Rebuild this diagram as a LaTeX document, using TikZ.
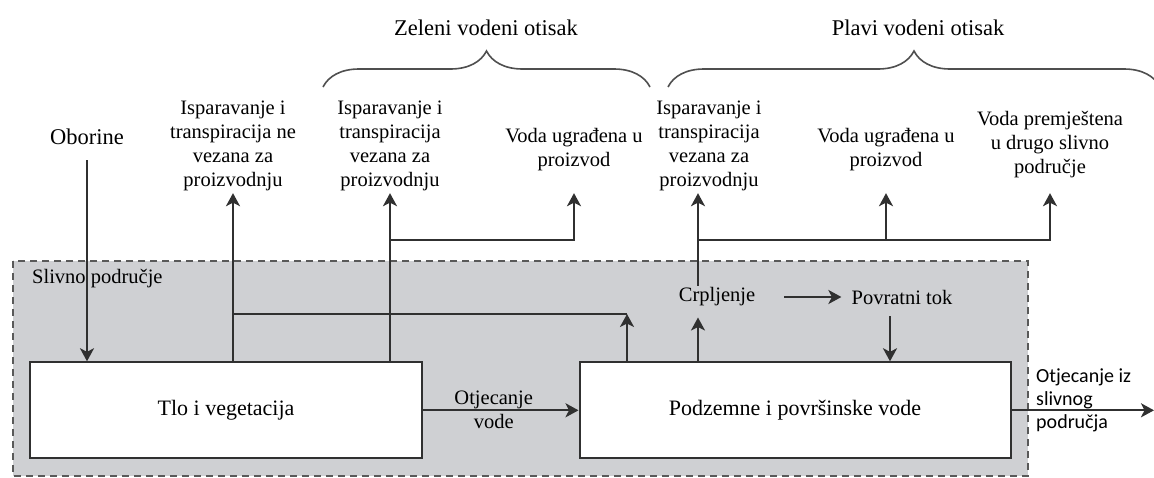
\documentclass[tikz,border=0pt]{standalone}
\usepackage{fontspec}
\setmainfont{Liberation Serif}
\newfontfamily\calibrifont{Carlito}
\usetikzlibrary{arrows.meta,decorations.pathreplacing}
\definecolor{ink}{HTML}{303030}
\definecolor{basin}{HTML}{CFD0D3}
\tikzset{
  line/.style={draw=ink, line width=2.2pt},
  flow/.style={line, -{Stealth[length=13pt,width=14pt,inset=3.5pt]}},
  box/.style={draw=ink, line width=2pt, fill=white, minimum height=96pt, font=\fontsize{22}{26}\selectfont},
  lbl/.style={align=center, font=\fontsize{20.5}{24}\selectfont, inner sep=2pt},
  big/.style={font=\fontsize{22.5}{26}\selectfont, inner sep=2pt},
  brace/.style={draw=ink!85, line width=1.6pt, decorate, decoration={brace, amplitude=36pt}}
}
\begin{document}
\begin{tikzpicture}[x=1pt,y=-1pt]
\useasboundingbox (0,0) rectangle (1154,477);
% slivno podrucje
\draw[fill=basin, draw=ink!80, line width=1.6pt, dash pattern=on 7pt off 5pt] (13,261) rectangle (1028,476);
\node[lbl, anchor=west, inner sep=0pt] (sliv) at (32,279) {Slivno područje};
% spremnici
\node[box, minimum width=392pt] (tlo) at (226,410.3) {Tlo i vegetacija};
\node[box, minimum width=431pt] (pod) at (795,410.3) {Podzemne i površinske vode};
% oznake gore
\node[big] (obo) at (87,137) {Oborine};
\node[lbl] (etn) at (233,146) {Isparavanje i\\transpiracija ne\\vezana za\\proizvodnju};
\node[lbl] (etg) at (390,146) {Isparavanje i\\transpiracija\\vezana za\\proizvodnju};
\node[lbl] (vug) at (574,150) {Voda ugrađena u\\proizvod};
\node[lbl] (etb) at (709,146) {Isparavanje i\\transpiracija\\vezana za\\proizvodnju};
\node[lbl] (vub) at (886,150) {Voda ugrađena u\\proizvod};
\node[lbl] (vpr) at (1050,145) {Voda premještena\\u drugo slivno\\područje};
\node[big] (zel) at (486,28) {Zeleni vodeni otisak};
\node[big] (pla) at (918,28) {Plavi vodeni otisak};
\draw[brace] (323,87) -- (650,87);
\draw[brace] (668,87) -- (1160,87);
% tokovi
\node[lbl] (crp) at (717,297) {Crpljenje};
\node[lbl] (pov) at (902,297) {Povratni tok};
\coordinate (ev) at (627,314);
\coordinate (gj) at (390,240);
\coordinate (bj) at (698,240);
\coordinate (out) at (1154,410.3);
\draw[flow, shorten <=13pt] (obo.south) -- (obo.south |- tlo.north);
\draw[flow] (tlo.north -| etn) -- (etn.south);
\draw[line] (ev -| etn) -- (ev);
\draw[flow] (pod.north -| ev) -- (ev);
\draw[flow] (tlo.north -| etg) -- (etg.south);
\draw[flow] (gj) -| (vug.south |- etn.south);
\draw[flow, shorten >=9pt] (pod.north -| bj) -- (bj |- crp.south);
\draw[flow] (crp.north -| bj) -- (bj |- etn.south);
\draw[flow] (bj) -| (vub.south |- etn.south);
\draw[flow] (bj) -| (vpr.south |- etn.south);
\draw[flow, shorten <=27pt, shorten >=8pt] (crp.east) -- (pov.west);
\draw[flow, shorten <=10pt] ([xshift=-12pt]pov.south) -- ([xshift=-12pt]pov.south |- pod.north);
\draw[flow] (tlo) -- (pod) node[lbl, midway, xshift=-7pt] {Otjecanje\\vode};
\draw[flow] (pod) -- (out);
\node[anchor=west, align=left, inner sep=0pt, font=\calibrifont\fontsize{20}{23}\selectfont] (odt) at (1036,400) {Otjecanje iz\\slivnog\\područja};
\end{tikzpicture}
\end{document}
